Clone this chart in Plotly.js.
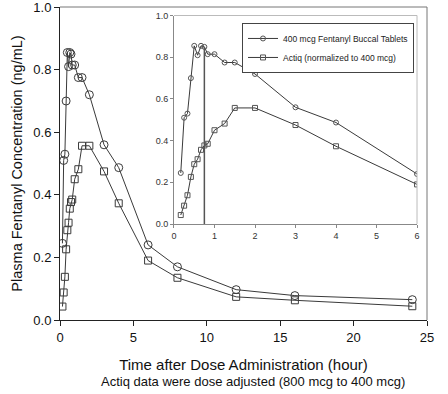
<!DOCTYPE html>
<html>
<head>
<meta charset="utf-8">
<script src="https://cdn.plot.ly/plotly-3.0.1.min.js"></script>
<style>html,body{margin:0;padding:0;background:#fff;}#chart{width:448px;height:394px;}</style>
</head>
<body>
<div id="chart"></div>
<script>
const timeHours = [0.167, 0.25, 0.333, 0.417, 0.5, 0.583, 0.667, 0.75, 0.833, 1, 1.25, 1.5, 2, 3, 4, 6, 8, 12, 16, 24];
const fbtConc   = [0.245, 0.51, 0.53, 0.70, 0.855, 0.81, 0.855, 0.85, 0.815, 0.815, 0.775, 0.775, 0.72, 0.56, 0.487, 0.24, 0.17, 0.097, 0.078, 0.065];
const actiqConc = [0.043, 0.088, 0.138, 0.226, 0.287, 0.311, 0.356, 0.377, 0.385, 0.45, 0.482, 0.557, 0.557, 0.475, 0.373, 0.19, 0.135, 0.074, 0.063, 0.044];
const seriesNames = ['400 mcg Fentanyl Buccal Tablets', 'Actiq (normalized to 400 mcg)'];
const tmaxX = [0.75, 0.75];
const tmaxY = [0, 0.85];
const insetMaxT = 6;
const yTicks = [0, 0.2, 0.4, 0.6, 0.8, 1.0];
const yTickText = ['0.0', '0.2', '0.4', '0.6', '0.8', '1.0'];

const lineCol = '#3a3a3a';
const fontFam = '"Liberation Sans", Arial, sans-serif';

const insetIdx = timeHours.map((t,i)=>i).filter(i => timeHours[i] <= insetMaxT);
const tIn = insetIdx.map(i => timeHours[i]);

const traces = [
  {x: timeHours, y: fbtConc, mode: 'lines+markers', xaxis: 'x', yaxis: 'y', showlegend: false,
   line: {color: lineCol, width: 1}, marker: {symbol: 'circle-open', size: 8, color: lineCol, line: {width: 1}}},
  {x: timeHours, y: actiqConc, mode: 'lines+markers', xaxis: 'x', yaxis: 'y', showlegend: false,
   line: {color: lineCol, width: 1}, marker: {symbol: 'square-open', size: 7, color: lineCol, line: {width: 1}}},
  {x: tIn, y: insetIdx.map(i => fbtConc[i]), mode: 'lines+markers', xaxis: 'x2', yaxis: 'y2', name: seriesNames[0],
   line: {color: lineCol, width: 1}, marker: {symbol: 'circle-open', size: 5, color: '#555', line: {width: 1}}},
  {x: tIn, y: insetIdx.map(i => actiqConc[i]), mode: 'lines+markers', xaxis: 'x2', yaxis: 'y2', name: seriesNames[1],
   line: {color: lineCol, width: 1}, marker: {symbol: 'square-open', size: 5, color: '#555', line: {width: 1}}},
  {x: tmaxX, y: tmaxY, mode: 'lines', xaxis: 'x2', yaxis: 'y2', showlegend: false,
   line: {color: '#555', width: 1.5}}
];

const layout = {
  width: 448, height: 394,
  margin: {l: 60, r: 21, t: 7, b: 74},
  paper_bgcolor: '#fff', plot_bgcolor: '#fff',
  font: {family: fontFam, color: '#111'},
  xaxis: {
    range: [0, 25], tickvals: [0, 5, 10, 15, 20, 25], ticks: 'outside', ticklen: 5, tickcolor: '#222',
    showgrid: false, zeroline: false, showline: true, linecolor: '#222', linewidth: 1,
    tickfont: {size: 13, family: fontFam, color: '#111'}, ticklabeloverflow: 'allow',
    title: {text: 'Time after Dose Administration (hour)', font: {size: 15, family: fontFam, color: '#111'}, standoff: 15}
  },
  yaxis: {
    range: [0, 1.0005], tickvals: yTicks, ticktext: yTickText, ticks: 'outside', ticklen: 5, tickcolor: '#222',
    showgrid: false, zeroline: false, showline: true, linecolor: '#222', linewidth: 1,
    tickfont: {size: 13, family: fontFam, color: '#111'}, ticklabeloverflow: 'allow',
    title: {text: 'Plasma Fentanyl Concentration (ng/mL)', font: {size: 14.5, family: fontFam, color: '#111'}, standoff: 7}
  },
  xaxis2: {
    domain: [0.3106, 0.9728], anchor: 'y2', range: [0, 6], tickvals: [0,1,2,3,4,5,6], ticks: 'outside', ticklen: 3,
    tickcolor: '#888', showgrid: false, zeroline: false, showline: true, linecolor: '#888', linewidth: 1,
    tickfont: {size: 9, family: fontFam, color: '#333'}, ticklabeloverflow: 'allow'
  },
  yaxis2: {
    domain: [0.3067, 0.9728], anchor: 'x2', range: [0, 1.0005], tickvals: yTicks, ticktext: yTickText,
    ticks: 'outside', ticklen: 3, tickcolor: '#888', showgrid: false, zeroline: false, showline: true, linecolor: '#888', linewidth: 1,
    tickfont: {size: 9, family: fontFam, color: '#333'}, ticklabeloverflow: 'allow'
  },
  showlegend: true,
  legend: {
    x: 0.9646, y: 0.949, xanchor: 'right', yanchor: 'top', xref: 'paper', yref: 'paper',
    bgcolor: '#fff', bordercolor: '#444', borderwidth: 1,
    font: {size: 8.5, family: fontFam, color: '#222'}, itemwidth: 30, tracegroupgap: 0
  },
  shapes: [
    {type: 'line', xref: 'paper', yref: 'paper', x0: 0, x1: 1, y0: 1, y1: 1, line: {color: '#777', width: 1}},
    {type: 'line', xref: 'paper', yref: 'paper', x0: 1, x1: 1, y0: 0, y1: 1, line: {color: '#777', width: 1}},
    {type: 'line', xref: 'paper', yref: 'paper', x0: 0.3106, x1: 0.9728, y0: 0.9728, y1: 0.9728, line: {color: '#bbb', width: 1}},
    {type: 'line', xref: 'paper', yref: 'paper', x0: 0.9728, x1: 0.9728, y0: 0.3067, y1: 0.9728, line: {color: '#bbb', width: 1}}
  ],
  annotations: [
    {text: 'Actiq data were dose adjusted (800 mcg to 400 mcg)', xref: 'paper', yref: 'paper', x: 0.527, y: -0.198,
     xanchor: 'center', yanchor: 'middle', showarrow: false, font: {size: 13, family: fontFam, color: '#111'}}
  ]
};

Plotly.newPlot('chart', traces, layout, {staticPlot: true, displayModeBar: false});
</script>
</body>
</html>
